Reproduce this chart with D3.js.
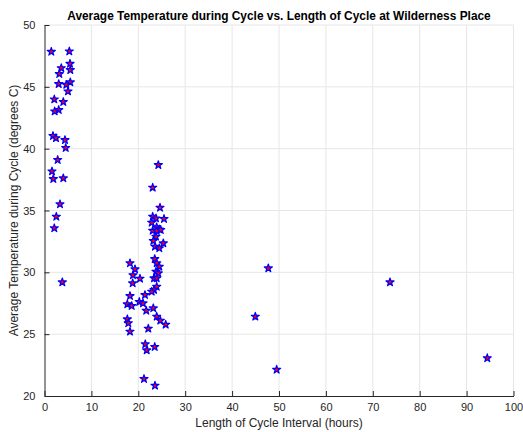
<!DOCTYPE html>
<html><head><meta charset="utf-8">
<script src="https://cdn.jsdelivr.net/npm/d3@7"></script>
<style>body{margin:0;background:#fff;}svg{display:block;}</style>
</head><body>
<script>
const cycleHours = [
 1.45,5.29,5.44,3.58,5.50,3.16,5.50,3.03,4.65,5.01,2.09,4.01,3.03,2.17,1.81,2.45,4.37,4.52,2.81,1.60,1.88,4.01,3.30,2.52,2.09,3.80,
 24.27,23.07,24.63,23.07,23.77,25.48,22.86,23.92,24.48,23.07,23.92,24.78,23.77,23.2,25.33,23.56,24.48,23.5,23.92,24.48,23.77,24.26,23.35,23.92,23.92,23.35,22.86,21.43,
 18.23,19.30,18.87,20.36,18.8,18.23,20.21,21.0,17.66,18.59,23.2,21.7,17.66,17.87,18.23,23.92,24.69,25.84,22.13,21.49,21.79,23.5,21.22,23.56,
 47.72,73.67,44.95,49.5,94.41
];
const avgTemp = [
 47.84,47.87,46.87,46.52,46.36,46.04,45.37,45.23,45.17,44.64,43.99,43.78,43.13,43.02,41.03,40.86,40.70,40.06,39.09,38.17,37.55,37.61,35.51,34.50,33.57,29.20,
 38.68,36.85,35.23,34.50,34.37,34.32,34.02,33.65,33.48,33.37,33.35,33.43,32.89,32.54,32.35,32.08,31.95,31.08,30.74,30.46,30.06,29.93,29.52,29.52,28.84,28.58,28.44,28.17,
 30.74,30.25,29.77,29.49,29.12,28.09,27.61,27.5,27.42,27.28,27.1,26.9,26.21,25.89,25.21,26.42,26.10,25.77,25.45,24.19,23.70,23.97,21.38,20.84,
 30.33,29.20,26.42,22.13,23.06
];
const xTicks = [0,10,20,30,40,50,60,70,80,90,100];
const yTicks = [20,25,30,35,40,45,50];
const titleText = "Average Temperature during Cycle vs. Length of Cycle at Wilderness Place";
const xLabelText = "Length of Cycle Interval (hours)";
const yLabelText = "Average Temperature during Cycle (degrees C)";

const W = 523, H = 432;
const m = {left:44.5, right:513.5, top:25, bottom:396};
const font = "Helvetica, Arial, 'Liberation Sans', sans-serif";

const svg = d3.select("body").append("svg").attr("width",W).attr("height",H);
const x = d3.scaleLinear().domain([0,100]).range([m.left,m.right]);
const y = d3.scaleLinear().domain([20,50]).range([m.bottom,m.top]);

// grid
const g = svg.append("g");
g.selectAll(".gx").data(xTicks.slice(1)).enter().append("line")
 .attr("x1",d=>x(d)).attr("x2",d=>x(d)).attr("y1",m.top).attr("y2",m.bottom)
 .attr("stroke","#e6e6e6").attr("stroke-width",1);
g.selectAll(".gy").data(yTicks.slice(1)).enter().append("line")
 .attr("x1",m.left).attr("x2",m.right).attr("y1",d=>y(d)).attr("y2",d=>y(d))
 .attr("stroke","#e6e6e6").attr("stroke-width",1);

// axes
const xAxis = d3.axisBottom(x).tickValues(xTicks).tickSizeInner(-5).tickSizeOuter(0).tickPadding(7);
const yAxis = d3.axisLeft(y).tickValues(yTicks).tickSizeInner(-5).tickSizeOuter(0).tickPadding(9);
const gx = svg.append("g").attr("transform",`translate(0,${m.bottom})`).call(xAxis);
const gy = svg.append("g").attr("transform",`translate(${m.left},0)`).call(yAxis);
[gx,gy].forEach(a=>{
  a.select(".domain").attr("stroke","#262626").attr("stroke-width",1);
  a.selectAll(".tick line").attr("stroke","#262626");
  a.selectAll(".tick text").attr("fill","#262626").style("font-family",font).style("font-size","11px");
});

// points
const star = d3.symbol().type(d3.symbolStar).size(20);
svg.append("g").selectAll("path").data(cycleHours.map((v,i)=>[v,avgTemp[i]])).enter().append("path")
 .attr("d",star)
 .attr("transform",d=>`translate(${x(d[0])},${y(d[1])})`)
 .attr("fill","#ff0000").attr("stroke","#0000ff").attr("stroke-width",1.2).attr("stroke-linejoin","round");

// labels
svg.append("text").attr("x",(m.left+m.right)/2).attr("y",20).attr("text-anchor","middle")
 .style("font-family",font).style("font-size","11.9px").style("font-weight","bold").attr("fill","#000").text(titleText);
svg.append("text").attr("x",(m.left+m.right)/2).attr("y",427).attr("text-anchor","middle")
 .style("font-family",font).style("font-size","12px").attr("fill","#262626").text(xLabelText);
svg.append("text").attr("transform",`translate(18,${(m.top+m.bottom)/2}) rotate(-90)`).attr("text-anchor","middle")
 .style("font-family",font).style("font-size","12px").attr("fill","#262626").text(yLabelText);
</script>
</body></html>
